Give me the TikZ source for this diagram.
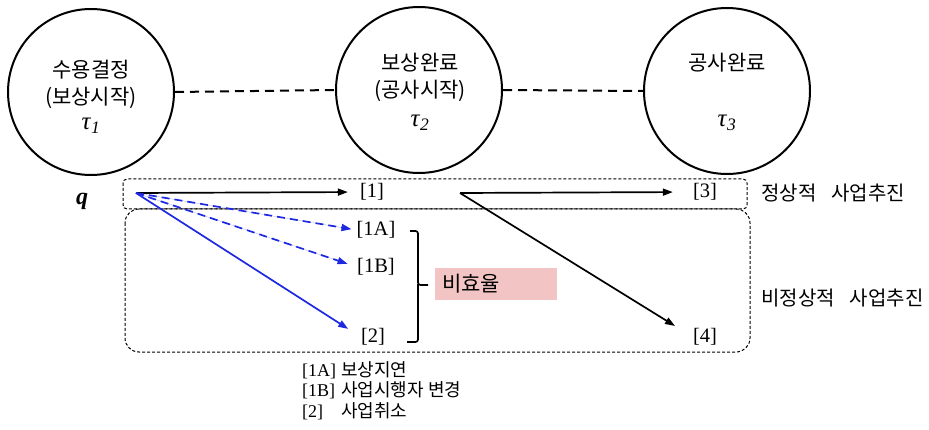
\documentclass[tikz,border=0pt]{standalone}
\usepackage{fontspec}
\setmainfont{Liberation Serif}
\newfontfamily\kr{Noto Sans CJK KR}
\usetikzlibrary{arrows.meta}
\definecolor{bluearrow}{RGB}{30,40,225}
\definecolor{pinkbox}{RGB}{242,196,196}
\begin{document}
\begin{tikzpicture}[x=1pt,y=-1pt,
 stage/.style={circle,draw,line width=2pt,minimum size=166pt,inner sep=0pt},
 ktxt/.style={font=\kr\fontsize{21}{24}\selectfont,inner sep=0pt},
 rtxt/.style={font=\kr\fontsize{20}{24}\selectfont,inner sep=0pt,anchor=west},
 tau/.style={font=\fontsize{25}{27}\selectfont,inner sep=0pt},
 lbl/.style={font=\fontsize{20.5}{23}\selectfont,inner sep=0pt},
 link/.style={dash pattern=on 9pt off 6pt, line width=2pt},
 framebox/.style={draw, line width=1pt, dash pattern=on 3pt off 2pt},
 arr/.style={line width=1.7pt,-{Triangle[length=10pt,width=7pt]}},
 barr/.style={arr, draw=bluearrow, fill=bluearrow},
 bdarr/.style={barr, dash pattern=on 8pt off 5pt},
]
\useasboundingbox (0,0) rectangle (929,430);

% frames
\draw[framebox, rounded corners=4pt] (123,179) rectangle (747,209);
\draw[framebox, rounded corners=14pt] (125,209) rectangle (750,352);

% stages
\node[stage] (c1) at (91,92) {};
\node[stage] (c2) at (419,90) {};
\node[stage] (c3) at (727,91) {};
\draw[link] (c1.east) -- (c2.west);
\draw[link] (c2.east) -- (c3.west);

\node[ktxt] (t1a) at (91,70) {수용결정};
\node[ktxt] (t1b) at (91,98) {(보상시작)};
\node[tau]  (t1c) at (91,126) {\textit{τ}\textsubscript{\textit{1}}};
\node[ktxt] (t2a) at (420,63) {보상완료};
\node[ktxt] (t2b) at (420,91) {(공사시작)};
\node[tau]  (t2c) at (420,123) {\textit{τ}\textsubscript{\textit{2}}};
\node[ktxt] (t3a) at (727,63) {공사완료};
\node[tau]  (t3c) at (727,123) {\textit{τ}\textsubscript{\textit{3}}};

% q and origins
\node[font=\fontsize{24}{26}\selectfont\bfseries\itshape, inner sep=0pt] (q) at (82,201) {q};
\coordinate (o1) at (136,193);
\coordinate (o2) at (460,193);

% labels
\node[lbl] (l1)  at (372,192) {[1]};
\node[lbl] (l1a) at (376,230) {[1A]};
\node[lbl] (l1b) at (376,267) {[1B]};
\node[lbl] (l2)  at (373,337) {[2]};
\node[lbl] (l3)  at (705,192) {[3]};
\node[lbl] (l4)  at (705,337) {[4]};

% arrows
\draw[arr, shorten >=12pt] (o1) -- (l1.west);
\draw[bdarr, shorten >=5pt] (o1) -- (l1a.west);
\draw[bdarr, shorten >=10pt] (o1) -- (l1b.west);
\draw[barr, shorten >=15pt] (o1) -- (l2.west);
\draw[arr, shorten >=20pt] (o2) -- (l3.west);
\draw[arr, shorten >=21pt] (o2) -- (l4.west);

% brace
\draw[line width=1.7pt, rounded corners=2.5pt] (410,231) -- (418,231) -- (418,285) -- (428,285);
\draw[line width=1.7pt, rounded corners=2.5pt] (418,284) -- (418,342) -- (407,342);

% inefficiency box
\node[fill=pinkbox, minimum width=122pt, minimum height=32pt, inner sep=0pt] (ineff) at (496,284) {};
\node[ktxt, anchor=west] (ineffT) at (442,284) {비효율};

% right labels
\node[rtxt] (normal) at (761,193) {정상적\hspace{15pt}사업추진};
\node[rtxt] (abnormal) at (761,298) {비정상적\hspace{15pt}사업추진};

% legend
\node[anchor=north west, inner sep=0pt, font=\fontsize{18}{19}\selectfont] (legend) at (302,361) {%
\begin{tabular}{@{}l@{\hspace{5pt}}l@{}}
{[1A]} & {\kr 보상지연}\\
{[1B]} & {\kr 사업시행자 변경}\\
{[2]} & {\kr 사업취소}
\end{tabular}};
\end{tikzpicture}
\end{document}
